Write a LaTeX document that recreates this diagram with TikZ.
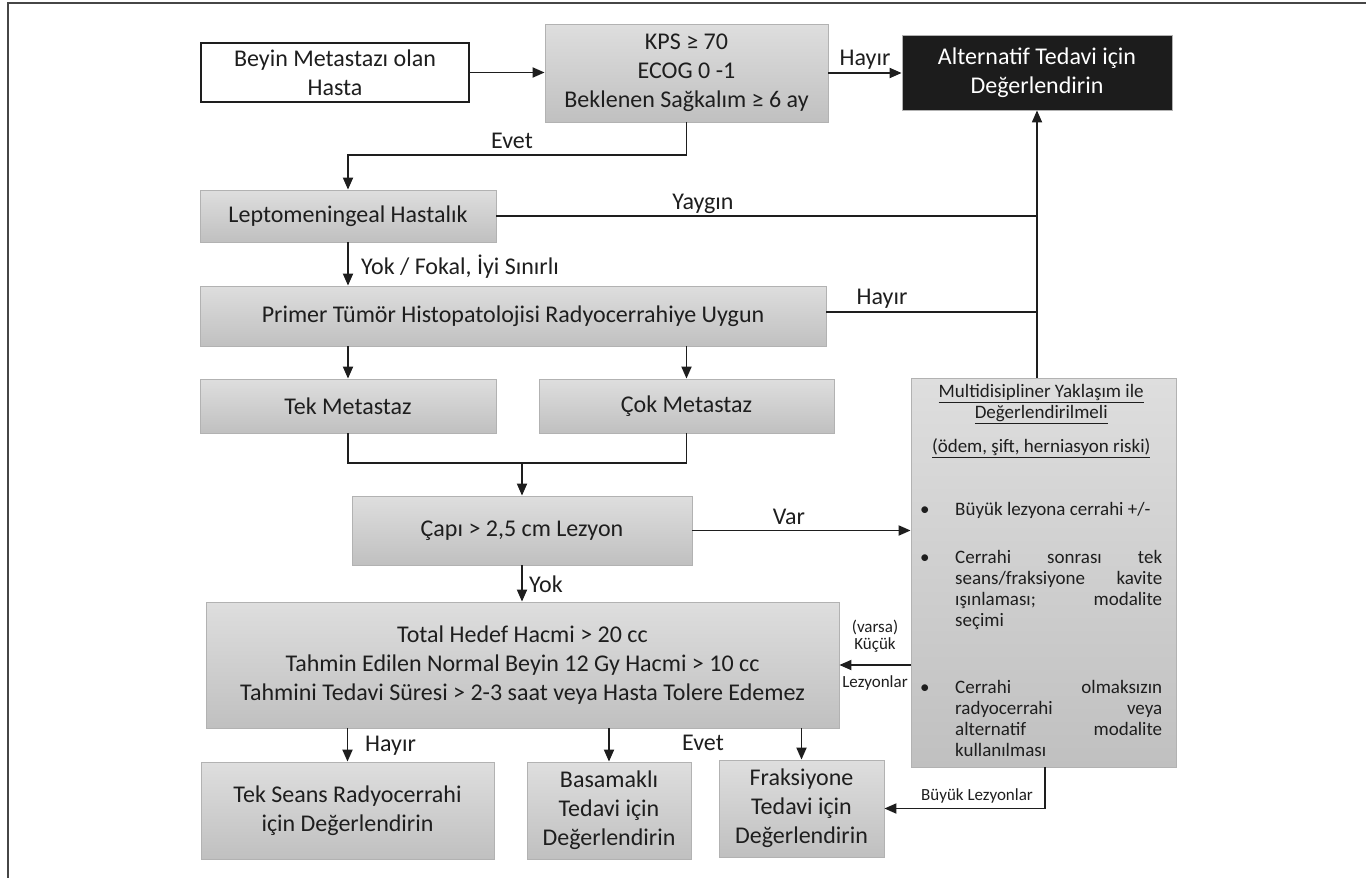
\documentclass[tikz,border=0pt]{standalone}
\usepackage{fontspec}
\setmainfont{Carlito}
\usetikzlibrary{arrows.meta,calc}
\definecolor{boxtop}{RGB}{222,222,222}
\definecolor{boxbot}{RGB}{192,192,192}
\definecolor{boxline}{RGB}{178,178,178}
\definecolor{ink}{RGB}{30,30,30}
\definecolor{framec}{RGB}{70,70,70}
\definecolor{altfill}{RGB}{28,28,28}
\newcommand\mainfs{\fontsize{24pt}{29pt}\selectfont}
\newcommand\labfs{\fontsize{24pt}{29pt}\selectfont}
\newcommand\smallfs{\fontsize{17pt}{19pt}\selectfont}
\newcommand\multifs{\fontsize{19pt}{21pt}\selectfont}
\newcommand\bltbox{\makebox[35pt][l]{\textbullet}}
\newcommand\jline[1]{\makebox[207pt][s]{#1}}
\begin{document}
\begin{tikzpicture}[x=1pt,y=-1pt,
  gbox/.style={draw=boxline, line width=0.8pt, top color=boxtop, bottom color=boxbot, inner sep=0pt, align=center, font=\mainfs, text=ink},
  arr/.style={draw=ink, line width=1.8pt, -{Triangle[length=12pt,width=10pt]}},
  ln/.style={draw=ink, line width=1.8pt},
  lab/.style={font=\labfs, text=ink, inner sep=0pt},
  slab/.style={font=\smallfs, text=ink, inner sep=0pt}]
\useasboundingbox (0,0) rectangle (1366,878);
\draw[framec, line width=2pt] (8,878) -- (8,3) -- (1366,3);

% boxes
\node[draw=ink, line width=1.3pt, fill=white, inner sep=0pt, align=center, font=\mainfs, text=ink, minimum width=268pt, minimum height=59pt] (beyin) at (335,72.5) {Beyin Metastazı olan\\Hasta};
\node[gbox, minimum width=283pt, minimum height=98pt] (kps) at (686.5,73) {KPS ≥ 70\\ECOG 0 -1\\Beklenen Sağkalım ≥ 6 ay};
\node[draw=boxline, line width=0.8pt, fill=altfill, text=white, inner sep=0pt, align=center, font=\mainfs, minimum width=270pt, minimum height=75pt] (alt) at (1037,72.5) {Alternatif Tedavi için\\Değerlendirin};
\node[gbox, minimum width=296pt, minimum height=52pt] (lepto) at (348,216) {Leptomeningeal Hastalık};
\node[gbox, minimum width=626pt, minimum height=60pt] (primer) at (513,316) {Primer Tümör Histopatolojisi Radyocerrahiye Uygun};
\node[gbox, minimum width=296pt, minimum height=54pt] (tek) at (348,406) {Tek Metastaz};
\node[gbox, minimum width=295pt, minimum height=54pt] (cok) at (686.5,406) {Çok Metastaz};
\node[gbox, minimum width=340pt, minimum height=69pt] (capi) at (522,530.5) {Çapı > 2,5 cm Lezyon};
\node[gbox, minimum width=633pt, minimum height=126pt] (total) at (522.5,665) {Total Hedef Hacmi > 20 cc\\Tahmin Edilen Normal Beyin 12 Gy Hacmi > 10 cc\\Tahmini Tedavi Süresi > 2-3 saat veya Hasta Tolere Edemez};
\node[gbox, minimum width=265pt, minimum height=389pt] (multi) at (1043.5,572.5) {};
\node[gbox, minimum width=293pt, minimum height=97pt] (tekseans) at (347.5,810.5) {Tek Seans Radyocerrahi\\için Değerlendirin};
\node[gbox, minimum width=164pt, minimum height=97pt] (basamak) at (609,810.5) {Basamaklı\\Tedavi için\\Değerlendirin};
\node[gbox, minimum width=165pt, minimum height=97pt] (fraks) at (801.5,808.5) {Fraksiyone\\Tedavi için\\Değerlendirin};

\node[anchor=north west, inner sep=0pt, align=left, font=\multifs, text=ink] (multitext) at (920,384) {%
\makebox[242pt][c]{\underline{Multidisipliner Yaklaşım ile}}\\
\makebox[242pt][c]{\underline{Değerlendirilmeli}}\\[13pt]
\makebox[242pt][c]{\underline{(ödem, şift, herniasyon riski)}}\\[42pt]
\bltbox Büyük lezyona cerrahi +/-\\[27pt]
\bltbox\jline{Cerrahi sonrası tek}\\
\hspace*{35pt}\jline{seans/fraksiyone kavite}\\
\hspace*{35pt}\jline{ışınlaması; modalite}\\
\hspace*{35pt}seçimi\\[46pt]
\bltbox\jline{Cerrahi olmaksızın}\\
\hspace*{35pt}\jline{radyocerrahi veya}\\
\hspace*{35pt}\jline{alternatif modalite}\\
\hspace*{35pt}kullanılması};

% connectors
\draw[arr] (beyin.east) -- (kps.west |- beyin.east);
\draw[arr] (kps.east) -- (alt.west |- kps.east);
\node[lab] (lhayir1) at (865,60) {Hayır};

\coordinate (e1) at (686.5,155);
\draw[arr] (kps.south) -- (e1) -| (lepto.north);
\node[lab] (levet1) at (512,141) {Evet};

\coordinate (j1) at (1037,216);
\draw[ln] (lepto.east) -- (j1);
\node[lab] (lyaygin) at (703,204) {Yaygın};

\coordinate (j2) at (1037,312);
\draw[ln] (primer.east |- j2) -- (j2);
\node[lab] (lhayir2) at (882,299) {Hayır};

\draw[arr] (multi.north -| alt.south) -- (alt.south);

\draw[arr] (lepto.south) -- (primer.north -| lepto.south);
\node[lab, anchor=west] (lyok1) at (361,267) {Yok / Fokal, İyi Sınırlı};

\draw[arr] (primer.south -| tek.north) -- (tek.north);
\draw[arr] (primer.south -| cok.north) -- (cok.north);

\coordinate (m1) at (348,463);
\coordinate (m2) at (686.5,463);
\coordinate (m3) at (522,463);
\draw[ln] (tek.south) -- (m1) -- (m2) -- (cok.south);
\draw[arr] (m3) -- (capi.north);

\draw[arr] (capi.east) -- (multi.west |- capi.east);
\node[lab] (lvar) at (789,517) {Var};

\draw[arr] (capi.south) -- (total.north -| capi.south);
\node[lab, anchor=west] (lyok2) at (529,584) {Yok};

\draw[arr] (multi.west |- total.east) -- (total.east);
\node[slab] (lvarsa) at (875,627) {(varsa)};
\node[slab] (lkucuk) at (875,645) {Küçük};
\node[slab] (llez) at (875,683) {Lezyonlar};

\draw[arr] (total.south -| tekseans.north) -- (tekseans.north);
\draw[arr] (total.south -| basamak.north) -- (basamak.north);
\draw[arr] (total.south -| fraks.north) -- (fraks.north);
\node[lab, anchor=west] (lhayir3) at (365,746) {Hayır};
\node[lab] (levet2) at (703,743) {Evet};

\coordinate (b1) at (1045,808.5);
\draw[arr] (multi.south -| b1) -- (b1) -- (fraks.east);
\node[slab] (lbuyuk) at (977,796) {Büyük Lezyonlar};
\end{tikzpicture}
\end{document}
